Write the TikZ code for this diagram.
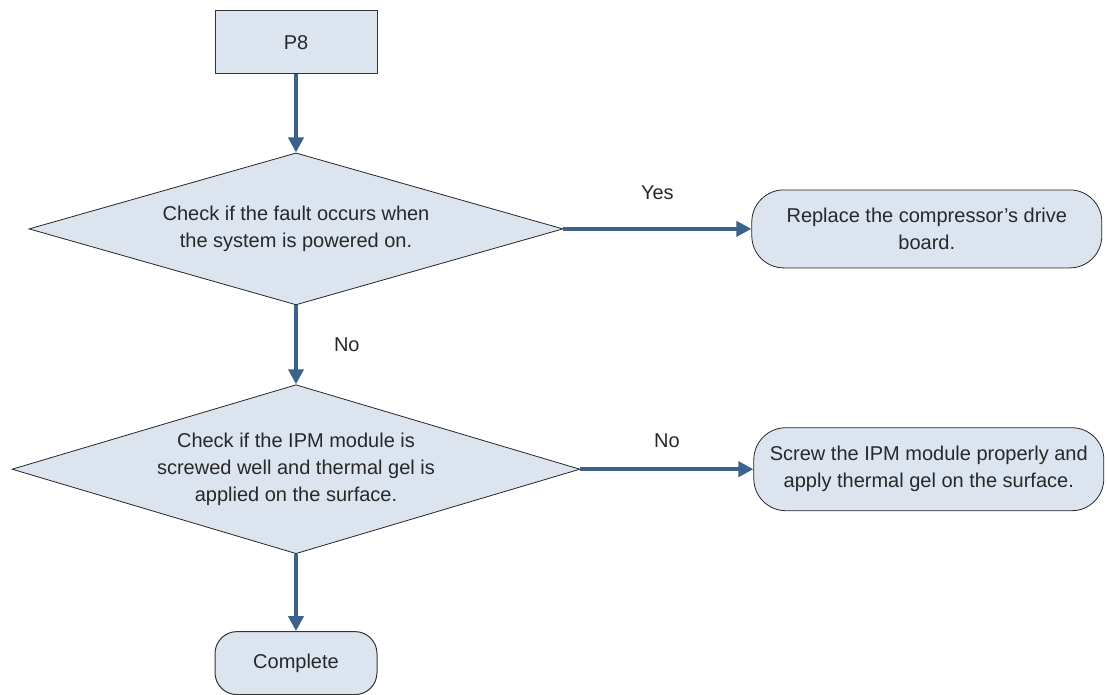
\documentclass[tikz,border=0pt]{standalone}
\usepackage{fontspec}
\setmainfont{Liberation Sans}
\usepackage{tikz}
\usetikzlibrary{arrows.meta,positioning,shapes.geometric}
\definecolor{boxfill}{RGB}{219,228,239}
\definecolor{flowblue}{RGB}{59,98,140}
\definecolor{textgray}{RGB}{40,40,40}

\begin{document}
\begin{tikzpicture}[x=1pt, y=1pt,
font=\fontsize{20}{27}\selectfont, text=textgray,
startbox/.style={draw=black!80, fill=boxfill, line width=1pt, minimum width=162pt, minimum height=63pt, inner sep=0pt},
decision/.style={diamond, draw=black!85, fill=boxfill, line width=0.8pt, inner sep=0pt, align=center},
actionbox/.style={draw=black!85, fill=boxfill, line width=0.8pt, rounded corners=32pt, minimum width=350pt, inner sep=0pt, align=center},
arrow/.style={-{Triangle[length=15pt,width=15pt]}, line width=4pt, flowblue},
lbl/.style={inner sep=0pt, text=textgray}
]
\useasboundingbox (0,0) rectangle (1107,-695);

\node[startbox] (p8) at (296,-42.5) {P8};
\node[decision, aspect=3.5, minimum width=534pt, minimum height=152pt, below=78pt of p8] (d1) {Check if the fault occurs when\\the system is powered on.};
\node[actionbox, minimum height=78pt, right=188pt of d1] (r1) {Replace the compressor's drive\\board.};
\node[decision, aspect=3.36, minimum width=568pt, minimum height=169pt, below=79pt of d1] (d2) {Check if the IPM module is\\screwed well and thermal gel is\\applied on the surface.};
\node[actionbox, minimum height=83pt, right=173pt of d2] (r2) {Screw the IPM module properly and\\apply thermal gel on the surface.};
\node[startbox, rounded corners=22pt, below=77pt of d2] (done) {Complete};

\draw[arrow] (p8) -- (d1);
\draw[arrow] (d1) -- node[lbl, above=27pt] (yes) {Yes} (r1);
\draw[arrow] (d1) -- node[lbl, right=36pt] (no1) {No} (d2);
\draw[arrow] (d2) -- node[lbl, above=20pt] (no2) {No} (r2);
\draw[arrow] (d2) -- (done);
\end{tikzpicture}
\end{document}
